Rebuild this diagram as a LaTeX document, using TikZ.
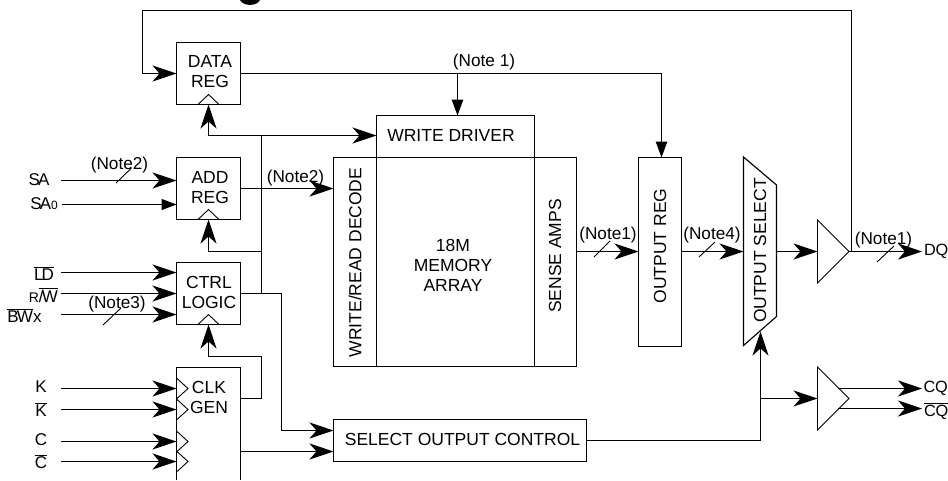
\documentclass[tikz,border=0pt]{standalone}
\usepackage{fontspec}
\setmainfont{Liberation Sans}
\newfontfamily\pinf[LetterSpace=-11]{Liberation Sans}
\newfontfamily\pinm[LetterSpace=-3]{Liberation Sans}
\usetikzlibrary{arrows.meta,calc}
\newcommand\ovl[1]{\leavevmode\vbox{\hrule height 1pt \kern 1.2pt\hbox{#1}}}
\tikzset{
  wire/.style={line width=1.15pt,line join=miter},
  arr/.style={wire,-{Stealth[length=24pt,width=16pt,inset=7pt]}},
  arrb/.style={wire,-{Triangle[length=15pt,width=11pt]}},
  arrc/.style={wire,-{Triangle[length=16pt,width=11.5pt]}},
  box/.style={draw,line width=1.15pt,inner sep=0pt,outer sep=0pt,align=center,font=\fontsize{17.5}{20}\selectfont},
  txt/.style={inner sep=0pt,outer sep=0pt,align=center,font=\fontsize{17.5}{20}\selectfont},
  note/.style={inner sep=0pt,font=\fontsize{17.2}{20}\selectfont},
  pin/.style={inner sep=0pt,font=\fontsize{17}{18}\selectfont\pinf},
  pinr/.style={inner sep=0pt,font=\fontsize{16.3}{18}\selectfont\pinm},
  thin line/.style={line width=0.9pt},
}
\begin{document}
\begin{tikzpicture}[x=1pt,y=-1pt]
\useasboundingbox (0,0) rectangle (948,480);
% clipped title fragment
\fill (240,0) .. controls (243,6.5) and (257,6.5) .. (260,0) -- cycle;

% boxes
\node[box,minimum width=64pt,minimum height=62pt] (data) at (208.5,73.5) {};
\node[txt] at (210,72) {DATA\\REG};
\node[box,minimum width=64pt,minimum height=62pt] (add) at (208.5,188.5) {};
\node[txt] at (210,187.5) {ADD\\REG};
\node[box,minimum width=64pt,minimum height=62pt] (ctrl) at (208.5,293.5) {};
\node[txt] at (209,292.5) {CTRL\\LOGIC};
\node[inner sep=0pt,outer sep=0pt,minimum width=64pt,minimum height=112.5pt] (clk) at (208.5,423.75) {};
\draw[wire] (clk.south west) -- (clk.north west) -- (clk.north east) -- (clk.south east);
\node[txt] at (209,397) {CLK\\GEN};

\node[box,minimum width=158pt,minimum height=42pt] (wd) at (455.5,136.5) {};
\node[txt] at (451,135.5) {WRITE DRIVER};
\node[box,minimum width=243pt,minimum height=209pt] (arrayb) at (455,262) {};
\draw[wire] (376.5,157.5) -- (376.5,366.5) (534.5,157.5) -- (534.5,366.5);
\node[txt] at (453,265) {18M\\MEMORY\\ARRAY};
\node[txt,rotate=90] (wrd) at (355,262.5) {WRITE/READ DECODE};
\node[txt,rotate=90] (sense) at (555,256) {SENSE AMPS};
\node[box,minimum width=43pt,minimum height=189pt] (oreg) at (660,252) {};
\node[txt,rotate=90] at (660,246) {OUTPUT REG};
\node[box,minimum width=253pt,minimum height=42pt] (sel) at (460,440.5) {};
\node[txt] at (462.5,439.5) {SELECT OUTPUT CONTROL};

% clock carets on registers
\foreach \n in {data,add,ctrl}
  \draw[thin line] ($(\n.south)+(-10.5,0)$) -- ($(\n.south)+(0,-10)$) -- ($(\n.south)+(10.5,0)$);
% clock carets on CLK GEN
\foreach \yy in {388.5,409.5,441.5,461.5}
  \draw[thin line] (176.5,\yy-10.5) -- (188,\yy) -- (176.5,\yy+10.5);

% output mux
\coordinate (muxw) at (743.5,251.5);
\coordinate (muxe) at (776.5,251.5);
\coordinate (muxb) at (760.5,331.5);
\draw[wire] (743.5,157) -- (776.5,185) -- (776.5,316.5) -- (743.5,345.5) -- cycle;
\node[txt,rotate=90] (mux) at (760,250.5) {OUTPUT SELECT};

% buffers
\coordinate (dqin) at (817.5,251.5);
\coordinate (dqout) at (849,251.5);
\draw[thin line] (817.5,220) -- (849,251.5) -- (817.5,283) -- cycle;
\coordinate (cqin) at (817.5,398.5);
\draw[thin line] (817.5,367) -- (849,398.5) -- (817.5,430) -- cycle;

% pins
\node[pin] (nsa) at (39,180) {SA};
\node[pin,anchor=east] (nsa0) at (58,204) {SA{\fontsize{12}{12}\selectfont 0}};
\node[pin] (nld) at (44,274) {\ovl{LD}};
\node[pin,anchor=east] (nrw) at (58,295) {{\fontsize{14}{14}\selectfont R}\ovl{/W}};
\node[pin] (nbw) at (24.5,316) {\ovl{BW}x};
\node[pin] (nk) at (41,387) {K};
\node[pin] (nkb) at (41,410) {\ovl{K}};
\node[pin] (nc) at (41,440) {C};
\node[pin] (ncb) at (41,462) {\ovl{C}};
\node[pinr,anchor=west] (dq) at (924,251.5) {DQ};
\node[pinr,anchor=west] (cq) at (923.5,388.5) {CQ};
\node[pinr,anchor=west] (cqb) at (924,411) {\ovl{CQ}};

% notes
\node[note] (n1) at (484,62) {(Note 1)};
\node[note] (n2a) at (119.5,165) {(Note2)};
\node[note] (n2b) at (295.5,178) {(Note2)};
\node[note] (n3) at (117,304) {(Note3)};
\node[note] (n1b) at (608,235) {(Note1)};
\node[note] (n4) at (712,235) {(Note4)};
\node[note] (n1c) at (883.5,240) {(Note1)};

% input wires
\coordinate (isa) at (61,180.5);
\coordinate (isa0) at (62,204.5);
\coordinate (ild) at (61,272.5);
\coordinate (irw) at (61,293.5);
\coordinate (ibw) at (61,314.5);
\coordinate (ik) at (61,388.5);
\coordinate (ikb) at (61,409.5);
\coordinate (ic) at (61,441.5);
\coordinate (icb) at (61,461.5);
\draw[arr] (isa) -- (isa -| add.west);
\draw[arrb] (isa0) -- (isa0 -| add.west);
\draw[arr] (ild) -- (ild -| ctrl.west);
\draw[arr] (irw) -- (irw -| ctrl.west);
\draw[arr] (ibw) -- (ibw -| ctrl.west);
\draw[arr] (ik) -- (ik -| clk.west);
\draw[arr] (ikb) -- (ikb -| clk.west);
\draw[arr] (ic) -- (ic -| clk.west);
\draw[arr] (icb) -- (icb -| clk.west);

% feedback from DQ to DATA REG
\coordinate (fbr) at (851.5,251.5);
\coordinate (fbl) at (142.5,10.5);
\draw[arr] (fbr) -- (fbr |- fbl) -- (fbl) -- (fbl |- data.west) -- (data.west);

% data reg outputs
\coordinate (wdin) at (457.5,115.5);
\coordinate (oregin) at (661.5,157.5);
\draw[arrc] (data.east) -- (oregin |- data.east) -- (oregin);
\draw[arrc] (wdin |- data.east) -- (wdin);

% clock tree
\coordinate (ck1) at (261.5,135.5);
\coordinate (ck2) at (261.5,251.5);
\coordinate (ck3) at (261.5,356.5);
\draw[arr] (ck1) -- (ck1 -| data.south) -- (data.south);
\draw[arr] (ck1) -- (ck1 -| wd.west);
\draw[wire] (ck1) -- (ctrl.east -| ck1);
\draw[arr] (ck2) -- (ck2 -| add.south) -- (add.south);
\coordinate (clko1) at (240.5,398.5);
\draw[arr] (clko1) -- (clko1 -| ck3) -- (ck3) -- (ck3 -| ctrl.south) -- (ctrl.south);

% ADD REG to decoder
\draw[arr] (add.east) -- (add.east -| arrayb.west);

% control outputs
\coordinate (seli1) at (281.5,430.5);
\coordinate (seli2) at (240.5,451.5);
\draw[arr] (ctrl.east) -- (ctrl.east -| seli1) -- (seli1) -- (seli1 -| sel.west);
\draw[arr] (seli2) -- (seli2 -| sel.west);

% data path
\draw[arr] (arrayb.east |- muxw) -- (oreg.west |- muxw);
\draw[arr] (oreg.east |- muxw) -- (muxw);
\draw[arr] (muxe) -- (dqin);
\draw[arr] (dqout) -- (922,251.5);

% select output
\draw[arr] (sel.east) -- (sel.east -| muxb) -- (muxb);
\coordinate (cqj) at (760.5,398.5);
\draw[arr] (cqj) -- (cqin);
\coordinate (cqa) at (838,388.5);
\coordinate (cqbb) at (838,408.5);
\draw[arr] (cqa) -- (922,388.5);
\draw[arr] (cqbb) -- (922,408.5);

% bus slashes
\draw[thin line] (116,183) -- (131.5,168);
\draw[thin line] (103,325) -- (121,308);
\draw[thin line] (594,257) -- (610,241);
\draw[thin line] (699,257) -- (715,242);
\draw[thin line] (877,262) -- (894,246);
\end{tikzpicture}
\end{document}
